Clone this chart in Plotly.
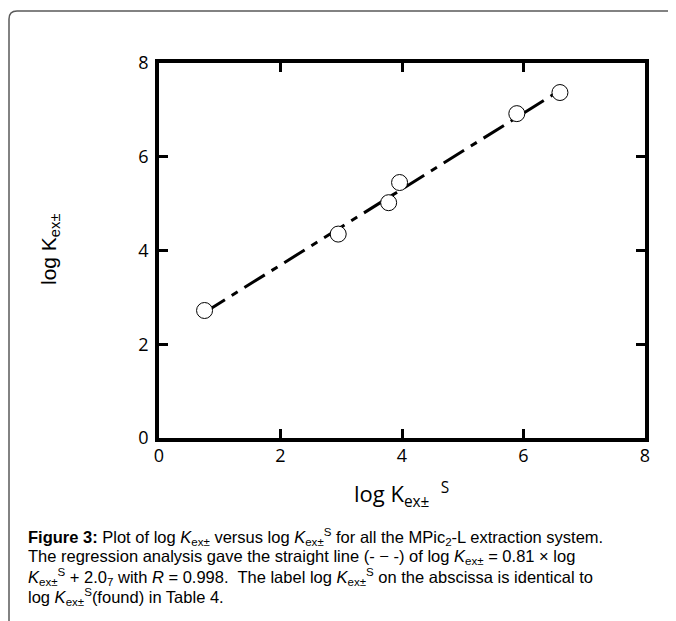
import plotly.graph_objects as go

# ---- data ----
log_kex_s = [0.75, 2.95, 3.78, 3.96, 5.89, 6.60]
log_kex = [2.72, 4.35, 5.02, 5.45, 6.92, 7.37]
fit_slope = 0.81
fit_intercept = 2.07
fit_x = [0.75, 6.60]
fit_y = [fit_slope * v + fit_intercept for v in fit_x]
tick_vals = [0, 2, 4, 6, 8]
tick_text = ["0", "2", "4", "6", "8"]

W, H = 676, 621
OFF = 8  # page body margin shifts the figure by 8px
L, R, T, B = 159 - OFF, 645 - OFF, 63 - OFF, 438 - OFF  # plot area (figure px)


def px(xs):
    """screen pixel x -> paper"""
    return (xs - OFF - L) / (R - L)


def py(ys):
    """screen pixel y -> paper"""
    return (B - (ys - OFF)) / (B - T)


fig = go.Figure()
fig.add_trace(go.Scatter(
    x=fit_x, y=fit_y, mode="lines",
    line=dict(color="black", width=3, dash="24px,8px,7px,8px"),
    hoverinfo="skip", showlegend=False,
))
fig.add_trace(go.Scatter(
    x=log_kex_s, y=log_kex, mode="markers",
    marker=dict(symbol="circle", size=16, color="white",
                line=dict(color="black", width=1)),
    showlegend=False,
))

axis_common = dict(
    range=[0, 8], tickvals=tick_vals, ticktext=tick_text,
    showgrid=False, zeroline=False,
    showline=True, linecolor="black", linewidth=3.5,
    mirror="ticks", ticks="inside", ticklen=9, tickwidth=3, tickcolor="black",
    tickfont=dict(family="Open Sans", size=18, color="black"),
)
fig.update_xaxes(**axis_common, ticklabelstandoff=-1)
fig.update_yaxes(**axis_common, ticklabelstandoff=3)

ann = []
# axis titles
ann.append(dict(
    x=px(401), y=py(494), xref="paper", yref="paper", showarrow=False,
    xanchor="center", yanchor="middle",
    text="log K<sub>ex±</sub>  <sup>S</sup>",
    font=dict(family="Open Sans", size=22, color="black"),
))
ann.append(dict(
    x=px(50), y=py(250), xref="paper", yref="paper", showarrow=False,
    xanchor="center", yanchor="middle", textangle=-90,
    text="log K<sub>ex±</sub>",
    font=dict(family="Liberation Sans", size=21, color="black"),
))

cap_font = dict(family="Liberation Sans", size=16.5, color="black")
caption_lines = [
    "<b>Figure 3:</b> Plot of log <i>K</i><sub>ex±</sub> versus log <i>K</i><sub>ex±</sub><sup>S</sup> "
    "for all the MPic<sub>2</sub>-L extraction system.",
    "The regression analysis gave the straight line (- − -) of log <i>K</i><sub>ex±</sub> = 0.81 × log",
    "<i>K</i><sub>ex±</sub><sup>S</sup> + 2.0<sub>7</sub> with <i>R</i> = 0.998.  The label log "
    "<i>K</i><sub>ex±</sub><sup>S</sup> on the abscissa is identical to",
    "log <i>K</i><sub>ex±</sub><sup>S</sup>(found) in Table 4.",
]
caption_y = [537, 557, 577, 597]
for txt, yy in zip(caption_lines, caption_y):
    ann.append(dict(
        x=px(26), y=py(yy), xref="paper", yref="paper", showarrow=False,
        xanchor="left", yanchor="middle", text=txt, font=cap_font,
    ))

# rounded frame (top-left corner visible)
r = 8
fx, fy = 9, 11
path = (f"M {px(fx)} {py(H + 20)} L {px(fx)} {py(fy + r)} "
        f"Q {px(fx)} {py(fy)} {px(fx + r)} {py(fy)} L {px(W + 20)} {py(fy)}")
shapes = [dict(type="path", xref="paper", yref="paper", path=path,
               line=dict(color="#5a5a5a", width=1.5))]

fig.update_layout(
    width=W, height=H,
    margin=dict(l=L, r=W - R, t=T, b=H - B, pad=0),
    plot_bgcolor="white", paper_bgcolor="white",
    annotations=ann, shapes=shapes,
    showlegend=False,
)

fig.write_html("out.html")
